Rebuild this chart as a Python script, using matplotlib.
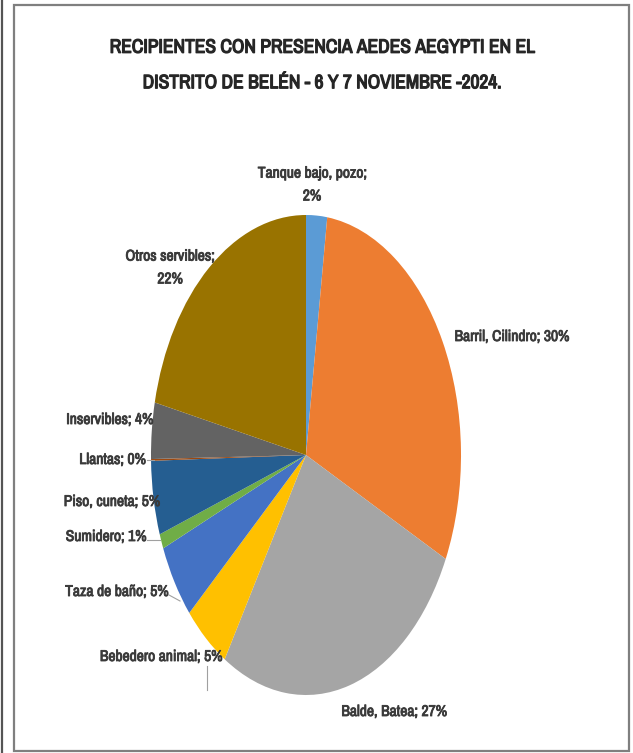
import matplotlib
matplotlib.use("Agg")
import matplotlib.pyplot as plt
import matplotlib.font_manager as fm
import matplotlib.patheffects as pe
from matplotlib.patches import Rectangle
from matplotlib.lines import Line2D

categories = ["Tanque bajo, pozo", "Barril, Cilindro", "Balde, Batea", "Bebedero animal",
              "Taza de baño", "Sumidero", "Piso, cuneta", "Llantas", "Inservibles",
              "Otros servibles"]
percent = [2.2, 30.1, 26.8, 4.8, 5.1, 1.0, 5.0, 0.12, 3.8, 21.6]
colors = ["#5B9BD5", "#ED7D31", "#A5A5A5", "#FFC000", "#4472C4", "#70AD47",
          "#255E91", "#9E480E", "#636363", "#997300"]
title = "RECIPIENTES CON PRESENCIA AEDES AEGYPTI EN EL\nDISTRITO DE BELÉN - 6 Y 7 NOVIEMBRE -2024."

entries = fm.fontManager.ttflist
narrow = sorted({f.name for f in entries if "Narrow" in f.name or "Condensed" in f.name})
if narrow:
    FONT = dict(family=[narrow[0], "DejaVu Sans"])
    lab_size, tit_size = 11.2, 14.0
else:
    FONT = dict(family=["Liberation Sans", "DejaVu Sans"])
    lab_size, tit_size = 8.5, 12.0

W, H = 633, 753
fig = plt.figure(figsize=(W / 100, H / 100), dpi=100)
fig.patch.set_facecolor("white")

cx, cy, rx, ry = 306, 455, 155, 240
ax = fig.add_axes([0, 0, 1, 1])
ax.pie(percent, colors=colors, startangle=90, counterclock=False,
       wedgeprops=dict(linewidth=0))
ax.set_aspect("auto")
ax.set_xlim(-cx / rx, (W - cx) / rx)
ax.set_ylim(-(H - cy) / ry, cy / ry)
ax.axis("off")

def to_data(px, py):
    return (px - cx) / rx, (cy - py) / ry

lab_color = "#3A3A3A"
label_pos = [(312, 185, "center", True), (512, 337, "center", False), (394, 712, "center", False),
             (222, 657, "right", False), (168, 592, "right", False), (146, 537, "right", False),
             (160, 502, "right", False), (146, 460, "right", False), (153, 420, "right", False),
             (170, 268, "center", True)]
for cat, p, (px, py, ha, two) in zip(categories, percent, label_pos):
    sep = ";\n" if two else "; "
    txt = f"{cat}{sep}{round(p)}%"
    x, y = to_data(px, py)
    ax.text(x, y, txt, ha=ha, va="center", fontsize=lab_size, fontweight="bold",
            color=lab_color, linespacing=1.8, **FONT,
            path_effects=[pe.withStroke(linewidth=0.6, foreground=lab_color)])

leaders = [((147, 460), (154, 460)), ((147, 540), (160, 540)), ((169, 595), (180, 601)),
           ((207, 666), (207, 690))]
for (x0, y0), (x1, y1) in leaders:
    a = to_data(x0, y0); b = to_data(x1, y1)
    ax.plot([a[0], b[0]], [a[1], b[1]], color="#A0A0A0", lw=0.8)

tit_color = "#262626"
fig.text(322 / W, 1 - 65 / H, title, ha="center", va="center", fontsize=tit_size,
         fontweight="bold", color=tit_color, linespacing=2.1, **FONT,
         path_effects=[pe.withStroke(linewidth=0.9, foreground=tit_color)])

fig.add_artist(Rectangle((14 / W, 2 / H), (629 - 14) / W, (748 - 2) / H,
                         transform=fig.transFigure, fill=False, edgecolor="#7F7F7F", lw=1.6))
fig.add_artist(Line2D([1.5 / W, 1.5 / W], [0, 1], transform=fig.transFigure,
                      color="#555555", lw=1.6))

fig.savefig("out.png", dpi=100)
